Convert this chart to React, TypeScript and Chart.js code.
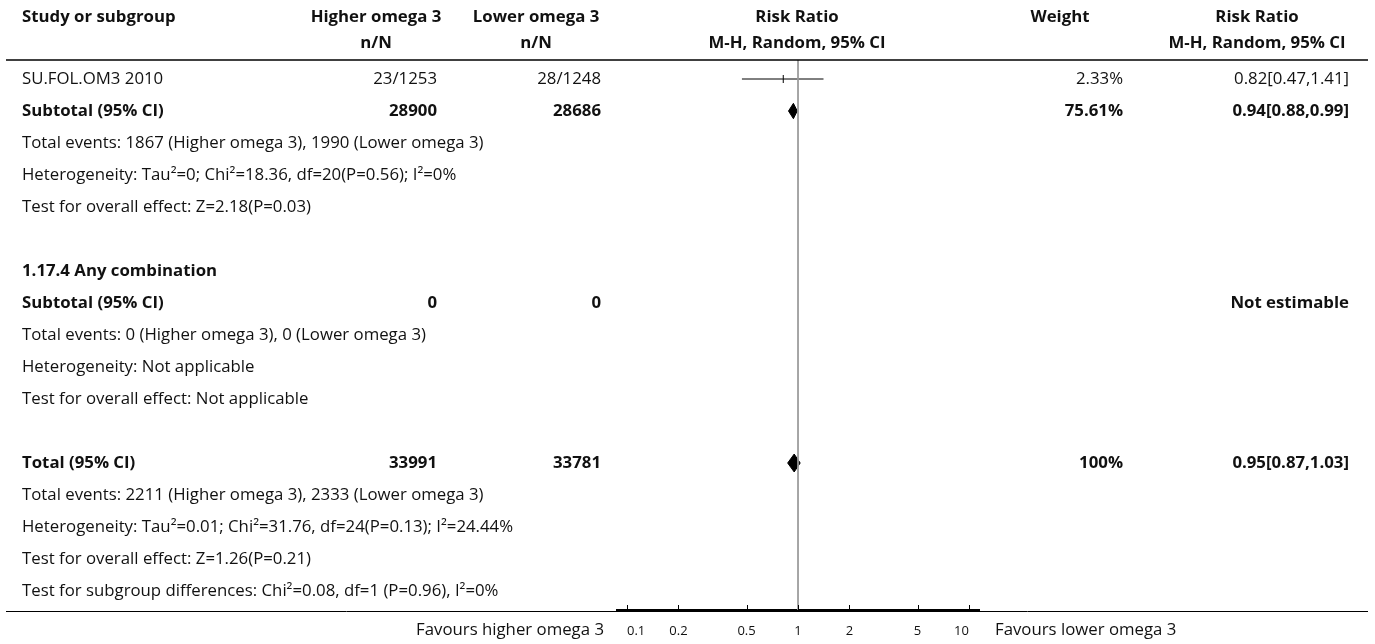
import React, { useEffect, useRef } from 'react';
import { Chart, registerables } from 'chart.js';

Chart.register(...registerables);

const W = 1375;
const H = 644;
const FONT = '"Open Sans", "Noto Sans", sans-serif';

// ---- data ----
const rowLabels = [
  'SU.FOL.OM3 2010',
  'Subtotal (95% CI)',
  'Total events: 1867 (Higher omega 3), 1990 (Lower omega 3)',
  'Heterogeneity: Tau²=0; Chi²=18.36, df=20(P=0.56); I²=0%',
  'Test for overall effect: Z=2.18(P=0.03)',
  '',
  '1.17.4 Any combination',
  'Subtotal (95% CI)',
  'Total events: 0 (Higher omega 3), 0 (Lower omega 3)',
  'Heterogeneity: Not applicable',
  'Test for overall effect: Not applicable',
  '',
  'Total (95% CI)',
  'Total events: 2211 (Higher omega 3), 2333 (Lower omega 3)',
  'Heterogeneity: Tau²=0.01; Chi²=31.76, df=24(P=0.13); I²=24.44%',
  'Test for overall effect: Z=1.26(P=0.21)',
  'Test for subgroup differences: Chi²=0.08, df=1 (P=0.96), I²=0%',
];
const rowBold = [false, true, false, false, false, false, true, true, false, false, false, false, true, false, false, false, false];
const higherCol = ['23/1253', '28900', '', '', '', '', '', '0', '', '', '', '', '33991', '', '', '', ''];
const lowerCol = ['28/1248', '28686', '', '', '', '', '', '0', '', '', '', '', '33781', '', '', '', ''];
const weightCol = ['2.33%', '75.61%', '', '', '', '', '', '', '', '', '', '', '100%', '', '', '', ''];
const ciCol = ['0.82[0.47,1.41]', '0.94[0.88,0.99]', '', '', '', '', '', 'Not estimable', '', '', '', '', '0.95[0.87,1.03]', '', '', '', ''];

const studyRows = [0];
const studyEst = [0.82];
const studyLow = [0.47];
const studyHigh = [1.41];

const diamondRows = [1, 12];
const diamondEst = [0.94, 0.95];
const diamondLow = [0.88, 0.87];
const diamondHigh = [0.99, 1.03];
const diamondHalf = [0.24, 0.28];

const tickValues = [0.1, 0.2, 0.5, 1, 2, 5, 10];
const tickLabels = ['0.1', '0.2', '0.5', '1', '2', '5', '10'];

// ---- layout ----
const Y_MIN = -0.59375;
const Y_MAX = 16.59375;
const X_MIN = 0.08738;
const X_MAX = 11.444;

const COL = {
  label: 22,
  higherRight: 437,
  higherCenter: 376,
  lowerRight: 601,
  lowerCenter: 536,
  plotCenter: 797,
  weightRight: 1123,
  weightCenter: 1060,
  ciRight: 1349,
  ciCenter: 1257,
  ruleLeft: 6,
  ruleRight: 1368,
};

let bodySize = 15.5;
function fitFont(ctx: CanvasRenderingContext2D) {
  ctx.font = `100px ${FONT}`;
  const w = ctx.measureText(rowLabels[3]).width;
  if (w > 0) bodySize = Math.round((100 * 436) / w * 10) / 10;
}

const forestText = {
  id: 'forestText',
  afterDraw(chart: any) {
    const ctx: CanvasRenderingContext2D = chart.ctx;
    const ys = chart.scales.y;
    const xs = chart.scales.x;
    const base = chart.chartArea.bottom;
    ctx.save();
    fitFont(ctx);
    const fs = bodySize;
    ctx.fillStyle = '#111';
    ctx.textBaseline = 'middle';

    // header
    const h1 = 17;
    const h2 = 43;
    ctx.font = `bold ${fs}px ${FONT}`;
    ctx.textAlign = 'left';
    ctx.fillText('Study or subgroup', COL.label, h1);
    ctx.textAlign = 'center';
    ctx.fillText('Higher omega 3', COL.higherCenter, h1);
    ctx.fillText('n/N', COL.higherCenter, h2);
    ctx.fillText('Lower omega 3', COL.lowerCenter, h1);
    ctx.fillText('n/N', COL.lowerCenter, h2);
    ctx.fillText('Risk Ratio', COL.plotCenter, h1);
    ctx.fillText('M-H, Random, 95% CI', COL.plotCenter, h2);
    ctx.fillText('Weight', COL.weightCenter, h1);
    ctx.fillText('Risk Ratio', COL.ciCenter, h1);
    ctx.fillText('M-H, Random, 95% CI', COL.ciCenter, h2);

    // rows
    rowLabels.forEach((lab, i) => {
      const y = ys.getPixelForValue(i);
      ctx.font = `${rowBold[i] ? 'bold ' : ''}${fs}px ${FONT}`;
      ctx.textAlign = 'left';
      if (lab) ctx.fillText(lab, COL.label, y);
      ctx.textAlign = 'right';
      if (higherCol[i]) ctx.fillText(higherCol[i], COL.higherRight, y);
      if (lowerCol[i]) ctx.fillText(lowerCol[i], COL.lowerRight, y);
      if (weightCol[i]) ctx.fillText(weightCol[i], COL.weightRight, y);
      if (ciCol[i]) ctx.fillText(ciCol[i], COL.ciRight, y);
    });

    // rules
    ctx.strokeStyle = '#000';
    ctx.lineWidth = 1.5;
    ctx.beginPath();
    ctx.moveTo(COL.ruleLeft, 60);
    ctx.lineTo(COL.ruleRight, 60);
    ctx.stroke();
    ctx.lineWidth = 1;
    ctx.beginPath();
    ctx.moveTo(COL.ruleLeft, base + 1.5);
    ctx.lineTo(COL.ruleRight, base + 1.5);
    ctx.stroke();

    // upward tick marks
    ctx.lineWidth = 1;
    tickValues.forEach((v) => {
      const px = Math.round(xs.getPixelForValue(v)) + 0.5;
      ctx.beginPath();
      ctx.moveTo(px, base);
      ctx.lineTo(px, base - 5);
      ctx.stroke();
    });

    // favours labels
    ctx.font = `${fs}px ${FONT}`;
    ctx.textAlign = 'right';
    ctx.fillText('Favours higher omega 3', 604, 630);
    ctx.textAlign = 'left';
    ctx.fillText('Favours lower omega 3', 995, 630);
    ctx.restore();
  },
};

export default function App() {
  const ref = useRef<HTMLCanvasElement>(null);

  useEffect(() => {
    const datasets: any[] = [];
    datasets.push({
      data: [{ x: 1, y: Y_MIN }, { x: 1, y: Y_MAX }],
      showLine: true,
      borderColor: '#9a9a9a',
      borderWidth: 1,
      pointRadius: 0,
    });
    studyRows.forEach((r, i) => {
      datasets.push({
        data: [{ x: studyLow[i], y: r }, { x: studyHigh[i], y: r }],
        showLine: true,
        borderColor: '#000',
        borderWidth: 1,
        pointRadius: 0,
      });
      datasets.push({
        data: [{ x: studyEst[i], y: r }],
        showLine: false,
        pointStyle: 'line',
        rotation: 90,
        pointRadius: 4,
        borderColor: '#000',
        borderWidth: 1,
      });
    });
    diamondRows.forEach((r, i) => {
      const h = diamondHalf[i];
      datasets.push({
        data: [
          { x: diamondLow[i], y: r },
          { x: diamondEst[i], y: r - h },
          { x: diamondHigh[i], y: r },
          { x: diamondEst[i], y: r + h },
          { x: diamondLow[i], y: r },
        ],
        showLine: true,
        fill: 'shape',
        backgroundColor: '#000',
        borderColor: '#000',
        borderWidth: 1,
        pointRadius: 0,
        tension: 0,
      });
    });

    const chart = new Chart(ref.current as HTMLCanvasElement, {
      type: 'scatter',
      data: { datasets },
      plugins: [forestText],
      options: {
        animation: false,
        responsive: false,
        maintainAspectRatio: false,
        layout: { padding: { left: 617, right: W - 979, top: 60, bottom: 0 } },
        plugins: { legend: { display: false }, tooltip: { enabled: false } },
        scales: {
          x: {
            type: 'logarithmic',
            min: X_MIN,
            max: X_MAX,
            position: 'bottom',
            grid: { display: false },
            border: { display: true, color: '#000', width: 2 },
            afterBuildTicks: (scale: any) => {
              scale.ticks = tickValues.map((v) => ({ value: v }));
            },
            afterFit: (scale: any) => {
              scale.height = 34;
            },
            ticks: {
              autoSkip: false,
              maxRotation: 0,
              align: 'inner',
              padding: 5,
              color: '#111',
              font: { family: FONT, size: 13 },
              callback: (v: any) => {
                const idx = tickValues.indexOf(Number(v));
                return idx >= 0 ? tickLabels[idx] : '';
              },
            },
          },
          y: {
            type: 'linear',
            min: Y_MIN,
            max: Y_MAX,
            reverse: true,
            display: false,
          },
        },
      } as any,
    });
    return () => chart.destroy();
  }, []);

  return (
    <div style={{ position: 'fixed', left: 0, top: 0, width: W, height: H, background: '#fff' }}>
      <canvas ref={ref} width={W} height={H} style={{ width: W, height: H, display: 'block' }} />
    </div>
  );
}
